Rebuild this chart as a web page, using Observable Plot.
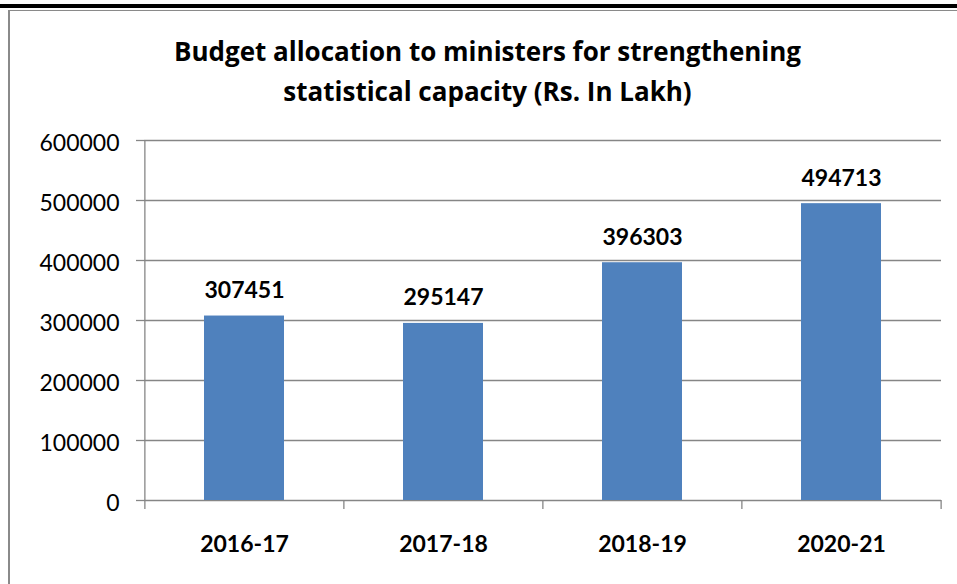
<!DOCTYPE html>
<html>
<head>
<meta charset="utf-8">
<script src="https://cdn.jsdelivr.net/npm/d3@7"></script>
<script src="https://cdn.jsdelivr.net/npm/@observablehq/plot@0.6"></script>
<style>
  html, body { margin: 0; padding: 0; background: #fff; }
  #wrap { position: relative; width: 957px; height: 584px; overflow: hidden; background: #fff; }
  #topbar { position: absolute; left: 0; top: 4px; width: 957px; height: 4px; background: #000; }
  #topline { position: absolute; left: 8px; top: 10px; width: 949px; height: 1px; background: #8a8a8a; }
  #leftline { position: absolute; left: 8px; top: 10px; width: 2px; height: 574px; background: #8a8a8a; }
  #title { position: absolute; left: 0; top: 31.4px; width: 975px; text-align: center;
           font-family: "Open Sans", sans-serif; font-weight: bold; font-size: 26px; line-height: 40px; color: #000; }
  #chart { position: absolute; left: 0; top: 0; }
</style>
</head>
<body>
<div id="wrap">
  <div id="topbar"></div>
  <div id="topline"></div>
  <div id="leftline"></div>
  <div id="chart"></div>
  <div id="title">Budget allocation to ministers for strengthening<br>statistical capacity (Rs. In Lakh)</div>
</div>
<script>
const years = ["2016-17", "2017-18", "2018-19", "2020-21"];
const budget = [307451, 295147, 396303, 494713];
const yTicks = [0, 100000, 200000, 300000, 400000, 500000, 600000];

const data = years.map((year, i) => ({year, value: budget[i]}));

const W = 957, H = 584, mL = 144, mR = 16, mT = 140, mB = 84;
const step = (W - mL - mR) / years.length;
const axisColor = "#868686";

const chart = Plot.plot({
  width: W,
  height: H,
  marginLeft: mL,
  marginRight: mR,
  marginTop: mT,
  marginBottom: mB,
  style: {fontFamily: "Lato, sans-serif", fontSize: "23px", color: "#000", background: "transparent", overflow: "visible"},
  x: {domain: years, paddingInner: 0.6, paddingOuter: 0.3, axis: null},
  y: {domain: [0, 600000], axis: null},
  marks: [
    Plot.gridY(yTicks, {stroke: axisColor, strokeOpacity: 1, strokeWidth: 1.3}),
    Plot.barY(data, {x: "year", y: "value", fill: "#4F81BD"}),
    Plot.ruleX([years[0]], {dx: -step / 2, stroke: axisColor, strokeWidth: 1.3}),
    Plot.axisY({ticks: yTicks, tickSize: 8, tickFormat: () => "", label: null, stroke: axisColor, strokeOpacity: 1, strokeWidth: 1.3}),
    Plot.axisX({ticks: years, tickSize: 9, tickFormat: () => "", label: null, dx: -step / 2, stroke: axisColor, strokeOpacity: 1, strokeWidth: 1.3}),
    Plot.axisX({ticks: [years[years.length - 1]], tickSize: 9, tickFormat: () => "", label: null, dx: step / 2, stroke: axisColor, strokeOpacity: 1, strokeWidth: 1.3}),
    Plot.text(yTicks, {y: d => d, text: d => String(d), frameAnchor: "left", textAnchor: "end", dx: -25, dy: 3, fill: "#000"}),
    Plot.text(years, {x: d => d, text: d => d, frameAnchor: "bottom", lineAnchor: "top", dy: 35, fontWeight: "bold", fill: "#000"}),
    Plot.text(data, {x: "year", y: "value", text: d => String(d.value), lineAnchor: "bottom", dy: -18, fontWeight: "bold", fill: "#000"})
  ]
});
document.getElementById("chart").appendChild(chart);
</script>
</body>
</html>
